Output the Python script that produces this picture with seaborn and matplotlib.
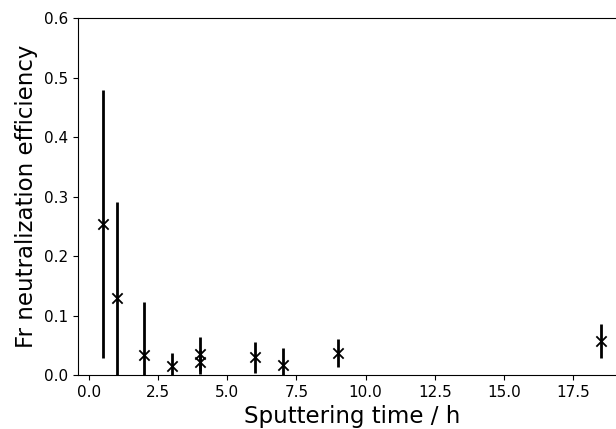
import numpy as np
import matplotlib
matplotlib.use('Agg')
import matplotlib.pyplot as plt
import seaborn as sns

# Sputtering time (h), efficiency and its error
sputter_time = [0.5, 1.0, 2.0, 3.0, 4.0, 4.0, 6.0, 7.0, 9.0, 18.5]
efficiency = [0.254, 0.129, 0.034, 0.015, 0.035, 0.022, 0.030, 0.017, 0.037, 0.057]
efficiency_err = [0.225, 0.162, 0.089, 0.022, 0.029, 0.020, 0.026, 0.028, 0.024, 0.029]

plt.rcParams['font.family'] = ['DejaVu Sans']

fig = plt.figure(figsize=(6.16, 4.29), dpi=100)
# axes run a little past the right edge, like the cropped original
ax = fig.add_axes([0.1266, 0.1259, 0.889, 0.832])

ax.errorbar(sputter_time, efficiency, yerr=efficiency_err, fmt='none',
            ecolor='black', elinewidth=2, capsize=0, zorder=2)
sns.scatterplot(x=sputter_time, y=efficiency, marker='x', color='black',
                s=55, linewidth=1.3, ax=ax, zorder=3)

ax.set_xlim(-0.4, 19.4)
ax.set_ylim(0, 0.6)
ax.set_xticks(np.arange(0, 18, 2.5))
ax.set_yticks(np.arange(0, 0.61, 0.1))
ax.tick_params(labelsize=11)
# keep the label just inside the bottom edge
ax.set_xlabel('Sputtering time / h', fontsize=16.5, labelpad=4)
ax.set_ylabel('Fr neutralization efficiency', fontsize=16.5)

fig.savefig('out.png', dpi=100)
